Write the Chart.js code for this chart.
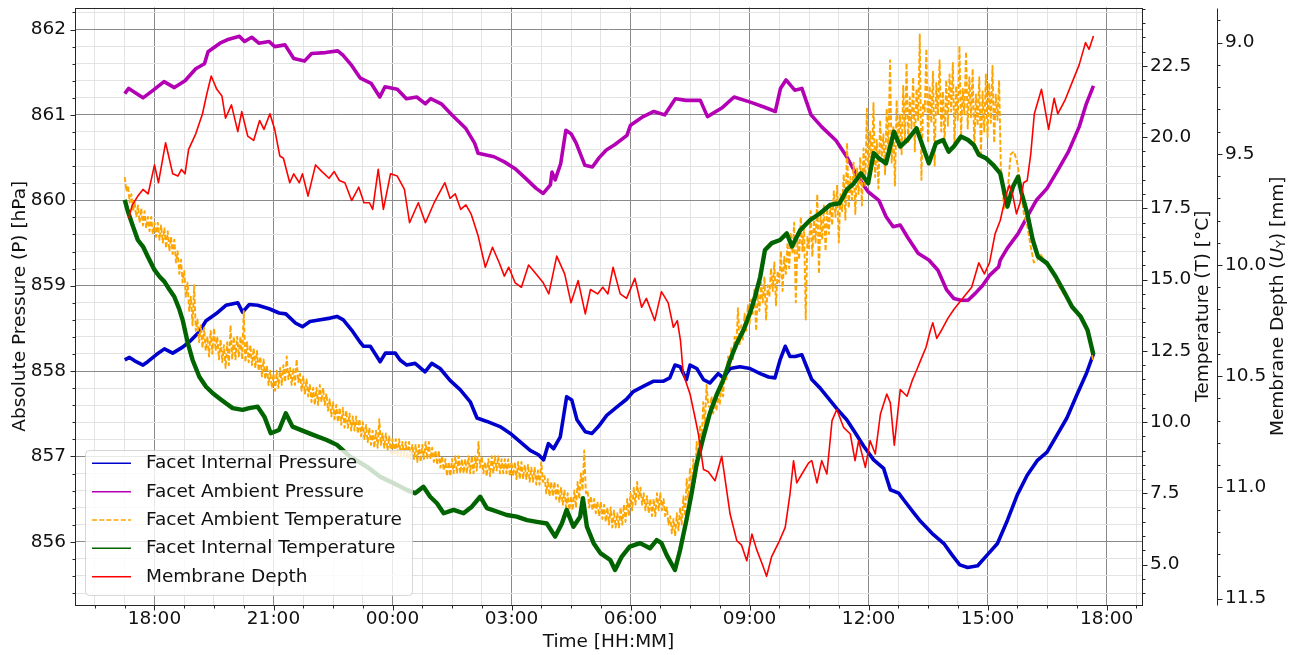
<!DOCTYPE html>
<html>
<head>
<meta charset="utf-8">
<title>Facet pressure, temperature and membrane depth</title>
<script src="https://cdn.jsdelivr.net/npm/chart.js@4.4.1/dist/chart.umd.min.js"></script>
<style>
  html, body { margin: 0; padding: 0; background: #ffffff; }
  #wrap { position: relative; width: 1295px; height: 655px; }
</style>
</head>
<body>
<div id="wrap"><canvas id="c" width="1295" height="655"></canvas></div>
<script>
// ---- series names -------------------------------------------------------
const seriesNames = [
  'Facet Internal Pressure',
  'Facet Ambient Pressure',
  'Facet Ambient Temperature',
  'Facet Internal Temperature',
  'Membrane Depth'
];

// time is given in hours from midnight of the first day (24 = 00:00 next day)

// ---- Facet Internal Pressure [hPa] ---------------------------------------
const blueT = [
  17.25,17.37,17.50,17.71,17.83,18.04,18.25,18.46,18.71,18.92,
  19.13,19.30,19.55,19.80,20.10,20.22,20.39,20.60,20.89,21.14,
  21.31,21.56,21.73,21.92,22.18,22.43,22.60,22.76,22.97,23.18,
  23.27,23.44,23.69,23.82,24.07,24.19,24.36,24.57,24.82,24.99,
  25.20,25.45,25.71,25.96,26.13,26.38,26.71,26.97,27.22,27.47,
  27.68,27.81,27.93,28.06,28.23,28.39,28.52,28.65,28.86,29.03,
  29.19,29.40,29.66,29.90,30.07,30.32,30.57,30.82,30.99,31.12,
  31.25,31.41,31.50,31.67,31.84,32.00,32.21,32.34,32.51,32.76,
  33.01,33.27,33.48,33.64,33.77,33.90,34.02,34.15,34.32,34.44,
  34.57,34.78,34.99,35.20,35.45,35.62,35.88,36.13,36.38,36.55,
  36.76,36.89,37.14,37.31,37.60,37.90,38.10,38.30,38.50,38.75,
  39.00,39.25,39.50,39.75,40.00,40.25,40.50,40.75,41.00,41.25,
  41.50,41.67
];
const blueP = [
  858.13,858.16,858.12,858.07,858.11,858.19,858.26,858.21,858.28,858.36,
  858.46,858.59,858.67,858.77,858.80,858.69,858.78,858.77,858.73,858.68,
  858.67,858.56,858.52,858.58,858.60,858.62,858.64,858.60,858.48,858.34,
  858.29,858.29,858.11,858.21,858.21,858.13,858.07,858.09,857.99,858.09,
  858.03,857.89,857.78,857.64,857.45,857.41,857.35,857.27,857.17,857.07,
  857.02,856.96,857.15,857.09,857.23,857.70,857.66,857.43,857.29,857.27,
  857.35,857.48,857.58,857.67,857.76,857.82,857.88,857.88,857.92,858.07,
  858.05,857.90,858.07,858.03,857.90,857.86,857.97,857.92,858.03,858.05,
  858.03,857.97,857.93,857.92,858.13,858.29,858.17,858.17,858.19,858.05,
  857.90,857.80,857.68,857.56,857.43,857.31,857.12,856.96,856.86,856.61,
  856.57,856.49,856.34,856.24,856.10,855.98,855.85,855.73,855.70,855.72,
  855.85,855.98,856.25,856.55,856.78,856.95,857.05,857.25,857.45,857.72,
  857.98,858.20
];

// ---- Facet Ambient Pressure [hPa] ----------------------------------------
const purpleT = [
  17.25,17.35,17.71,17.97,18.24,18.50,18.77,19.04,19.26,19.35,
  19.65,19.83,20.14,20.27,20.45,20.63,20.89,21.03,21.29,21.51,
  21.78,21.96,22.31,22.62,22.75,22.97,23.19,23.46,23.68,23.81,
  24.12,24.35,24.61,24.83,24.96,25.23,25.50,25.85,26.07,26.16,
  26.56,26.82,27.09,27.35,27.62,27.80,27.98,28.02,28.10,28.24,
  28.37,28.50,28.63,28.85,29.04,29.21,29.39,29.60,29.91,30.00,
  30.32,30.59,30.86,31.13,31.40,31.76,31.94,32.30,32.61,33.02,
  33.38,33.65,33.78,33.92,34.14,34.32,34.55,34.82,35.18,35.45,
  35.72,35.99,36.26,36.44,36.62,36.80,36.98,37.25,37.52,37.75,
  37.97,38.15,38.33,38.51,38.69,38.87,39.05,39.28,39.32,39.50,
  39.77,40.05,40.23,40.50,40.77,41.04,41.31,41.49,41.67
];
const purpleP = [
  861.25,861.31,861.20,861.29,861.39,861.32,861.40,861.54,861.60,861.74,
  861.84,861.88,861.92,861.86,861.91,861.84,861.86,861.80,861.82,861.66,
  861.63,861.72,861.73,861.75,861.70,861.58,861.43,861.37,861.21,861.33,
  861.30,861.19,861.21,861.13,861.19,861.13,861.00,860.84,860.67,860.55,
  860.51,860.45,860.37,860.26,860.14,860.08,860.18,860.33,860.24,860.43,
  860.82,860.78,860.67,860.41,860.39,860.50,860.59,860.65,860.76,860.88,
  860.98,861.04,861.00,861.19,861.17,861.17,860.98,861.08,861.21,861.15,
  861.09,861.04,861.31,861.41,861.29,861.31,861.00,860.86,860.70,860.51,
  860.28,860.10,860.00,859.81,859.69,859.71,859.57,859.38,859.30,859.18,
  858.95,858.85,858.83,858.83,858.91,859.00,859.12,859.22,859.30,859.44,
  859.61,859.85,860.00,860.14,860.35,860.57,860.86,861.13,861.34
];

// ---- Facet Ambient Temperature [°C] --------------------------------------
// night part: 17:15 - 07:57:30, one reading every 2.5 minutes
const orangeNightStart = 17.25, orangeNightStepMin = 2.5;
const orangeNight = [
  /* 17h */ 18.6,18.1, 18.3,17.7, 18.0,17.4, 17.7,17.2, 17.6,17.0, 17.5,16.9,
            17.4,16.8, 17.2,16.7, 17.2,16.6,
  /* 18h */ 17.0,16.5, 17.0,16.4, 16.9,16.3, 16.8,16.1, 16.7,16.0, 16.5,15.9,
            16.4,15.6, 16.0,15.2, 15.7,14.9, 15.3,14.4, 14.9,13.9, 14.4,13.4,
  /* 19h */ 14.8,13.2, 13.6,12.8, 13.4,12.6, 13.3,12.5, 13.0,12.3, 13.2,12.4,
            13.3,12.5, 13.0,12.2, 12.9,12.1, 12.7,11.9, 12.8,12.0, 13.4,12.2,
  /* 20h */ 13.0,12.2, 13.0,12.3, 13.0,12.2, 13.9,12.1, 12.8,12.1, 12.7,12.0,
            12.6,11.9, 12.5,11.8, 12.3,11.6, 12.2,11.5, 12.0,11.3, 11.8,11.2,
  /* 21h */ 11.7,11.1, 11.8,11.2, 11.9,11.3, 12.0,11.4, 12.3,11.5, 11.9,11.3,
            11.9,11.3, 12.2,11.4, 11.7,11.1, 11.6,11.0, 11.5,10.9, 11.3,10.7,
  /* 22h */ 11.2,10.6, 11.2,10.6, 11.3,10.7, 11.2,10.6, 11.0,10.4, 10.8,10.2,
            10.7,10.1, 10.6,10.0, 10.5,9.9, 10.5,9.8, 10.4,9.8, 10.3,9.7,
  /* 23h */ 10.2,9.7, 10.2,9.6, 10.1,9.5, 10.0,9.4, 9.9,9.3, 9.8,9.2,
            9.7,9.1, 9.7,9.1, 10.1,9.2, 9.6,9.1, 9.6,9.0, 9.5,8.9,
  /* 00h */ 9.4,8.9, 9.4,8.8, 9.4,8.8, 9.3,8.8, 9.3,8.7, 9.3,8.7,
            9.2,8.7, 9.2,8.6, 9.2,8.6, 9.2,8.7, 9.3,8.7, 9.3,8.7,
  /* 01h */ 9.1,8.6, 9.0,8.5, 9.0,8.4, 8.8,8.3, 8.7,8.1, 8.6,8.1,
            8.7,8.2, 8.8,8.2, 8.8,8.2, 8.7,8.2, 8.7,8.2, 8.8,8.2,
  /* 02h */ 8.8,8.2, 8.8,8.3, 9.3,8.4, 8.8,8.2, 8.6,8.1, 8.7,8.1,
            8.8,8.2, 8.8,8.3, 8.8,8.2, 8.7,8.2, 8.7,8.2, 8.7,8.1,
  /* 03h */ 8.6,8.1, 8.6,8.0, 8.6,8.0, 8.6,8.0, 8.5,8.0, 8.5,7.9,
            8.4,7.9, 8.4,7.8, 8.3,7.8, 8.6,7.9, 8.1,7.5, 8.0,7.4,
  /* 04h */ 7.9,7.4, 7.9,7.3, 7.8,7.2, 7.7,7.1, 7.6,7.0, 7.5,6.9,
            7.4,6.9, 7.6,7.0, 7.9,7.3, 8.2,7.6, 9.0,7.5, 7.6,7.0,
  /* 05h */ 7.4,6.9, 7.3,6.8, 7.2,6.7, 7.2,6.6, 7.1,6.5, 7.0,6.4,
            7.0,6.3, 6.9,6.3, 6.8,6.3, 7.0,6.4, 7.1,6.5, 7.3,6.7,
  /* 06h */ 7.5,6.9, 7.7,7.1, 7.9,7.3, 7.7,7.1, 7.5,6.9, 7.4,6.8,
            7.3,6.7, 7.3,6.7, 7.5,6.9, 7.5,6.9, 7.3,6.7, 7.0,6.4,
  /* 07h */ 6.7,6.1, 6.6,6.0, 6.8,6.2, 7.0,6.4, 7.4,6.7, 8.0,7.2,
            8.4,7.6, 8.7,7.9, 9.3,8.5, 9.9,9.1, 10.7,9.9, 11.3,10.6
];
// day part: 08:00 - 15:17:30, one reading every 2.5 minutes (strong sun, noisy)
const orangeDayStart = 32.0, orangeDayStepMin = 2.5;
const orangeDay = [
  /* 08h */ 10.5,10.9,10.3,10.8,10.4,11.0,10.6,11.3,10.9,11.8,11.5,12.3,
            11.9,12.6,12.2,13.0,12.6,14.0,12.7,13.4,12.9,13.8,13.2,14.1,
  /* 09h */ 13.4,14.3,13.8,14.7,13.2,14.5,13.9,14.9,14.2,15.1,13.6,14.8,
            14.4,15.4,14.6,15.6,14.1,15.3,14.9,16.0,14.6,15.8,15.2,16.3,
  /* 10h */ 15.4,16.6,15.9,17.0,14.2,16.4,15.7,17.2,16.0,16.9,13.6,16.5,
            16.1,17.4,15.8,17.1,16.3,18.0,15.2,17.3,16.4,17.6,16.0,17.5,
  /* 11h */ 16.6,17.7,16.9,18.1,17.2,18.3,16.3,18.0,17.4,18.7,17.1,19.8,
            17.5,18.6,17.8,19.1,17.3,18.9,18.0,19.3,17.6,19.6,18.3,21.0,
  /* 12h */ 18.4,20.2,19.0,21.2,18.6,19.9,18.2,20.6,19.3,20.1,18.7,21.0,
            19.5,22.7,19.1,20.4,18.3,21.3,19.7,20.8,19.4,21.8,19.9,22.6,
  /* 13h */ 19.8,21.4,20.3,22.1,19.5,21.7,20.6,23.6,18.5,21.2,20.9,23.1,
            19.8,21.8,20.5,22.3,19.0,21.9,20.8,22.7,20.2,21.6,19.8,22.0,
  /* 14h */ 20.4,22.2,20.9,22.6,19.7,21.8,20.6,23.2,20.1,21.7,20.8,23.0,
            20.3,22.1,20.7,22.4,19.6,21.5,20.4,22.1,19.4,21.6,20.2,22.2,
  /* 15h */ 20.0,21.9,20.5,22.5,19.8,21.5,20.6,22.0
];
// evening part: 15:20 - 17:40, one reading every 5 minutes
const orangeEveStart = 39.3333, orangeEveStepMin = 5;
const orangeEve = [
  /* 15h */ 19.0,17.5,18.0,19.4,19.5,19.1,18.3,17.3,
  /* 16h */ 16.9,16.2,15.6,15.7,15.9,15.7,15.6,15.4,15.2,14.9,14.7,14.5,
  /* 17h */ 14.4,14.2,14.0,13.8,13.7,13.5,13.2,12.8,12.1
];

// ---- Facet Internal Temperature [°C] --------------------------------------
const greenT = [
  17.25,17.33,17.46,17.58,17.71,17.83,18.00,18.13,18.25,18.38,
  18.50,18.63,18.71,18.84,18.96,19.13,19.30,19.47,19.63,19.80,
  19.97,20.22,20.39,20.60,20.77,20.93,21.14,21.31,21.48,21.73,
  22.00,22.34,22.60,22.93,23.35,23.69,24.03,24.36,24.57,24.78,
  24.95,25.12,25.29,25.54,25.79,26.00,26.21,26.38,26.63,26.88,
  27.13,27.39,27.64,27.89,28.10,28.27,28.39,28.56,28.73,28.80,
  28.90,29.07,29.24,29.49,29.61,29.78,29.98,30.24,30.49,30.66,
  30.78,30.91,31.12,31.25,31.41,31.54,31.67,31.84,32.00,32.17,
  32.34,32.51,32.68,32.85,33.01,33.14,33.27,33.39,33.56,33.77,
  33.94,34.07,34.28,34.53,34.78,35.03,35.27,35.45,35.63,35.81,
  35.99,36.13,36.26,36.44,36.64,36.80,36.98,37.21,37.34,37.52,
  37.70,37.88,38.02,38.15,38.33,38.51,38.65,38.78,38.96,39.14,
  39.32,39.41,39.50,39.64,39.77,39.86,40.00,40.14,40.27,40.50,
  40.72,40.95,41.13,41.35,41.52,41.67
];
const greenC = [
  17.80,17.39,16.86,16.39,16.16,15.81,15.34,15.10,14.93,14.64,
  14.40,13.94,13.58,12.77,12.18,11.59,11.24,11.01,10.84,10.66,
  10.49,10.43,10.49,10.54,10.19,9.61,9.72,10.31,9.84,9.70,
  9.55,9.37,9.20,8.79,8.44,8.08,7.85,7.62,7.50,7.73,
  7.38,7.15,6.80,6.92,6.80,7.03,7.38,6.98,6.86,6.74,
  6.68,6.56,6.50,6.44,5.98,6.44,6.92,6.33,6.68,7.33,
  6.33,5.75,5.40,5.16,4.81,5.28,5.63,5.75,5.57,5.86,
  5.75,5.34,4.81,5.51,6.56,7.50,8.55,9.49,10.31,10.95,
  11.48,12.18,12.77,13.23,13.82,14.40,15.10,16.04,16.28,16.39,
  16.62,16.16,16.74,17.09,17.33,17.62,17.68,18.15,18.38,18.73,
  18.38,19.44,19.26,19.08,20.19,19.67,19.90,20.31,19.79,19.08,
  19.79,19.90,19.49,19.67,20.02,19.90,19.73,19.38,19.26,19.03,
  18.73,18.15,17.56,18.26,18.61,18.03,17.33,16.39,15.81,15.57,
  15.10,14.52,14.05,13.70,13.23,12.36
];

// ---- Membrane Depth [mm] -------------------------------------------------
const redT = [
  17.35,17.44,17.58,17.71,17.84,18.00,18.10,18.28,18.46,18.59,
  18.68,18.77,18.86,19.04,19.21,19.32,19.43,19.57,19.70,19.79,
  19.94,20.10,20.20,20.35,20.50,20.65,20.76,20.91,21.03,21.16,
  21.25,21.41,21.51,21.65,21.73,21.87,22.06,22.22,22.40,22.53,
  22.66,22.80,22.97,23.15,23.28,23.42,23.50,23.64,23.77,23.95,
  24.12,24.30,24.43,24.65,24.83,25.05,25.32,25.45,25.58,25.72,
  25.85,25.98,26.16,26.34,26.52,26.69,26.82,26.93,27.09,27.25,
  27.43,27.62,27.80,27.94,28.14,28.34,28.50,28.68,28.86,28.99,
  29.17,29.30,29.43,29.56,29.74,29.90,30.11,30.28,30.40,30.61,
  30.78,30.95,31.08,31.18,31.26,31.33,31.50,31.62,31.71,31.84,
  31.96,32.13,32.30,32.51,32.68,32.80,32.93,33.06,33.18,33.31,
  33.43,33.56,33.73,33.90,34.02,34.11,34.19,34.32,34.49,34.57,
  34.70,34.82,34.95,35.08,35.20,35.37,35.54,35.66,35.75,35.92,
  36.04,36.17,36.30,36.46,36.55,36.65,36.80,36.97,37.10,37.22,
  37.31,37.45,37.55,37.62,37.72,37.85,38.00,38.15,38.33,38.60,
  38.78,38.92,39.05,39.19,39.32,39.46,39.55,39.64,39.73,39.82,
  39.91,40.00,40.09,40.18,40.36,40.54,40.68,40.77,40.95,41.13,
  41.31,41.47,41.56,41.67
];
const redD = [
  9.79,9.73,9.69,9.66,9.68,9.55,9.63,9.45,9.59,9.60,
  9.57,9.59,9.48,9.41,9.32,9.23,9.15,9.21,9.24,9.34,
  9.28,9.40,9.31,9.42,9.44,9.35,9.39,9.32,9.39,9.51,
  9.52,9.63,9.59,9.63,9.59,9.69,9.55,9.58,9.61,9.58,
  9.62,9.63,9.71,9.65,9.72,9.72,9.75,9.57,9.75,9.59,
  9.60,9.66,9.81,9.72,9.81,9.72,9.63,9.70,9.68,9.75,
  9.73,9.77,9.87,10.01,9.92,9.99,10.05,10.01,10.08,10.10,
  10.00,10.04,10.08,10.13,9.96,10.04,10.17,10.07,10.22,10.11,
  10.13,10.10,10.13,10.01,10.13,10.15,10.06,10.19,10.15,10.25,
  10.12,10.17,10.28,10.25,10.34,10.49,10.58,10.68,10.76,10.92,
  10.93,10.97,10.86,11.12,11.24,11.26,11.33,11.21,11.28,11.34,
  11.40,11.31,11.25,11.18,11.03,10.88,10.98,10.94,10.89,10.88,
  10.98,10.88,10.94,10.70,10.65,10.73,10.76,10.88,10.79,10.91,
  10.79,10.85,10.67,10.58,10.62,10.81,10.56,10.59,10.52,10.47,
  10.43,10.37,10.30,10.26,10.33,10.29,10.24,10.20,10.16,10.10,
  9.99,10.04,9.99,9.86,9.80,9.69,9.64,9.69,9.77,9.72,
  9.63,9.62,9.50,9.32,9.21,9.39,9.25,9.32,9.26,9.18,
  9.10,9.00,9.03,8.97
];

// ---- axis ranges and tick spacing ----------------------------------------
const timeRange = [15.996, 42.894];   const timeMinor = 0.75;  const timeMajor = 3;
const pressRange = [855.26, 862.258]; const pressMinor = 0.2;  const pressMajor = 1;
const tempRange = [3.58, 24.55];      const tempMinor = 0.5;   const tempMajor = 2.5;
const depthRange = [8.842, 11.529];   const depthMinor = 0.1;  const depthMajor = 0.5;

// ---- helpers -------------------------------------------------------------
const FAMILY = '"DejaVu Sans", "Liberation Sans", sans-serif';
const FS = 18.5;
const TEXT = '#111111';
const COLORS = ['#0000cd', '#b400b4', '#ffa500', '#006400', '#ff0000'];

function isMajor(v, step) {
  const r = v / step;
  return Math.abs(r - Math.round(r)) < 1e-6;
}
function pts(ts, vs) { return ts.map((t, i) => ({ x: t, y: vs[i] })); }
function sampled(start, stepMin, vs) { return vs.map((v, i) => ({ x: start + i * stepMin / 60, y: v })); }
function hhmm(v) { return String(Math.round(v) % 24).padStart(2, '0') + ':00'; }
function gridColor(step) {
  return ctx => (ctx.tick && isMajor(ctx.tick.value, step)) ? '#8a8a8a' : '#e3e3e3';
}
function noEdgePadding(s) {
  s.paddingTop = 0; s.paddingBottom = 0; s.paddingLeft = 0; s.paddingRight = 0;
}

const orangePts = [
  ...sampled(orangeNightStart, orangeNightStepMin, orangeNight),
  ...sampled(orangeDayStart, orangeDayStepMin, orangeDay),
  ...sampled(orangeEveStart, orangeEveStepMin, orangeEve)
];

// frame, tick marks, axis titles and legend
const decorations = {
  id: 'decorations',
  afterDraw(chart) {
    const { ctx, chartArea: ca, scales } = chart;
    const L = Math.round(ca.left) + 0.5, R = Math.round(ca.right) + 0.5;
    const T = Math.round(ca.top) + 0.5, B = Math.round(ca.bottom) + 0.5;
    const DX = Math.round(scales.y2.left) + 0.5;
    ctx.save();
    ctx.strokeStyle = '#262626';
    ctx.lineWidth = 1;

    ctx.strokeRect(L, T, R - L, B - T);
    ctx.beginPath(); ctx.moveTo(DX, T); ctx.lineTo(DX, B); ctx.stroke();

    const line = (x1, y1, x2, y2) => { ctx.beginPath(); ctx.moveTo(x1, y1); ctx.lineTo(x2, y2); ctx.stroke(); };
    const marks = (scale, step, fn) => scale.ticks.forEach(t => {
      const p = Math.round(scale.getPixelForValue(t.value)) + 0.5;
      fn(p, isMajor(t.value, step) ? 5 : 3);
    });
    marks(scales.x, timeMajor, (p, n) => line(p, B, p, B + n));
    marks(scales.y, pressMajor, (p, n) => line(L - n, p, L, p));
    marks(scales.y1, tempMajor, (p, n) => line(R, p, R + n, p));
    marks(scales.y2, depthMajor, (p, n) => line(DX, p, DX + n, p));

    const font = `${FS}px ${FAMILY}`;
    ctx.fillStyle = TEXT;
    ctx.font = font;
    ctx.textAlign = 'center';
    ctx.textBaseline = 'middle';
    ctx.fillText('Time [HH:MM]', (ca.left + ca.right) / 2, 642);
    const midY = (ca.top + ca.bottom) / 2;
    const vtext = (parts, cx) => {
      ctx.save();
      ctx.translate(cx, midY);
      ctx.rotate(-Math.PI / 2);
      ctx.textAlign = 'left';
      let w = 0;
      parts.forEach(p => { ctx.font = p.font; w += ctx.measureText(p.text).width; });
      let x = -w / 2;
      parts.forEach(p => {
        ctx.font = p.font;
        ctx.fillText(p.text, x, p.dy || 0);
        x += ctx.measureText(p.text).width;
      });
      ctx.restore();
    };
    vtext([{ text: 'Absolute Pressure (P) [hPa]', font }], 20);
    vtext([{ text: 'Temperature (T) [°C]', font }], 1203);
    vtext([
      { text: 'Membrane Depth (', font },
      { text: 'U', font: `italic ${FS}px ${FAMILY}` },
      { text: 'Y', font: `${FS * 0.7}px ${FAMILY}`, dy: 4 },
      { text: ') [mm]', font }
    ], 1278);

    const lx = 85.5, ly = 450.5, lw = 327, lh = 145, r = 4;
    ctx.beginPath();
    ctx.moveTo(lx + r, ly);
    ctx.arcTo(lx + lw, ly, lx + lw, ly + lh, r);
    ctx.arcTo(lx + lw, ly + lh, lx, ly + lh, r);
    ctx.arcTo(lx, ly + lh, lx, ly, r);
    ctx.arcTo(lx, ly, lx + lw, ly, r);
    ctx.closePath();
    ctx.fillStyle = 'rgba(255,255,255,0.8)';
    ctx.fill();
    ctx.strokeStyle = 'rgba(204,204,204,0.8)';
    ctx.stroke();

    const rows = [463.3, 491.7, 520, 548.3, 576.7];
    seriesNames.forEach((name, i) => {
      ctx.strokeStyle = COLORS[i];
      ctx.lineWidth = 1.6;
      ctx.setLineDash(i === 2 ? [5, 2.2] : []);
      line(92, rows[i], 131, rows[i]);
      ctx.setLineDash([]);
      ctx.fillStyle = TEXT;
      ctx.font = font;
      ctx.textAlign = 'left';
      ctx.fillText(name, 146, rows[i]);
    });
    ctx.restore();
  }
};

const lineBase = { pointRadius: 0, tension: 0, fill: false, borderJoinStyle: 'round' };

new Chart(document.getElementById('c'), {
  type: 'line',
  data: {
    datasets: [
      { ...lineBase, label: seriesNames[0], data: pts(blueT, blueP), yAxisID: 'y',
        borderColor: COLORS[0], borderWidth: 3.6, order: 4 },
      { ...lineBase, label: seriesNames[1], data: pts(purpleT, purpleP), yAxisID: 'y',
        borderColor: COLORS[1], borderWidth: 3.6, order: 3 },
      { ...lineBase, label: seriesNames[2], data: orangePts, yAxisID: 'y1',
        borderColor: COLORS[2], borderWidth: 1.9, borderDash: [5, 2.2], order: 2 },
      { ...lineBase, label: seriesNames[3], data: pts(greenT, greenC), yAxisID: 'y1',
        borderColor: COLORS[3], borderWidth: 4.4, order: 1 },
      { ...lineBase, label: seriesNames[4], data: pts(redT, redD), yAxisID: 'y2',
        borderColor: COLORS[4], borderWidth: 1.6, order: 0 }
    ]
  },
  options: {
    responsive: false,
    animation: false,
    devicePixelRatio: 1,
    events: [],
    layout: { padding: { top: 7.5, left: 0, right: 0, bottom: 0 } },
    plugins: { legend: { display: false }, tooltip: { enabled: false } },
    scales: {
      x: {
        type: 'linear', position: 'bottom',
        min: timeRange[0], max: timeRange[1],
        ticks: {
          stepSize: timeMinor, autoSkip: false, maxRotation: 0, includeBounds: false,
          padding: 3, color: TEXT, font: { family: FAMILY, size: FS },
          callback: v => isMajor(v, timeMajor) ? hhmm(v) : ''
        },
        grid: { drawTicks: false, color: gridColor(timeMajor), lineWidth: 1 },
        border: { display: false },
        afterFit: s => { s.height = 50; noEdgePadding(s); }
      },
      y: {
        type: 'linear', position: 'left',
        min: pressRange[0], max: pressRange[1],
        ticks: {
          stepSize: pressMinor, autoSkip: false, includeBounds: false,
          padding: 9, color: TEXT, font: { family: FAMILY, size: FS },
          callback: v => isMajor(v, pressMajor) ? v.toFixed(0) : ''
        },
        grid: { drawTicks: false, color: gridColor(pressMajor), lineWidth: 1 },
        border: { display: false },
        afterFit: s => { s.width = 75; noEdgePadding(s); }
      },
      y1: {
        type: 'linear', position: 'right', weight: 1,
        min: tempRange[0], max: tempRange[1],
        ticks: {
          stepSize: tempMinor, autoSkip: false, includeBounds: false,
          padding: 8, color: TEXT, font: { family: FAMILY, size: FS },
          callback: v => isMajor(v, tempMajor) ? v.toFixed(1) : ''
        },
        grid: { display: false, drawTicks: false },
        border: { display: false },
        afterFit: s => { s.width = 75; noEdgePadding(s); }
      },
      y2: {
        type: 'linear', position: 'right', weight: 2, reverse: true,
        min: depthRange[0], max: depthRange[1],
        ticks: {
          stepSize: depthMinor, autoSkip: false, includeBounds: false,
          padding: 8, color: TEXT, font: { family: FAMILY, size: FS },
          callback: v => isMajor(v, depthMajor) ? v.toFixed(1) : ''
        },
        grid: { display: false, drawTicks: false },
        border: { display: false },
        afterFit: s => { s.width = 78; noEdgePadding(s); }
      }
    }
  },
  plugins: [decorations]
});
</script>
</body>
</html>
